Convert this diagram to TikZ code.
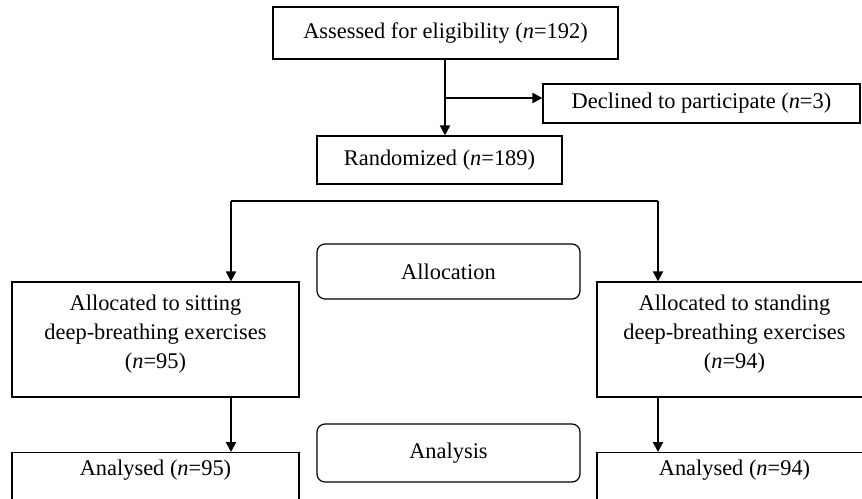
\documentclass[tikz,border=0pt]{standalone}
\usepackage{fontspec}
\setmainfont{Liberation Serif}
\usetikzlibrary{arrows.meta}

\begin{document}
\begin{tikzpicture}[
    x=0.5pt, y=-0.5pt,
    font=\fontsize{11.2pt}{14.5pt}\selectfont,
    box/.style={rectangle, draw, line width=0.6pt, text centered, align=center, inner sep=0pt},
    stage/.style={box, rounded corners=4pt, minimum width=131.5pt},
    group/.style={box, minimum height=57.5pt, text depth=7.5pt},
    result/.style={box, anchor=north, text height=11.5pt, text depth=40pt},
    arrow/.style={line width=1pt, -{Triangle[length=5pt, width=5pt]}},
    link/.style={line width=1pt}
]
\useasboundingbox (0,0) rectangle (862,498);
\clip (0,0) rectangle (862,498);

\node (assess) [box, minimum width=172.5pt, minimum height=26pt] at (445.5,33) {Assessed for eligibility (\textit{n}=192)};
\node (declined) [box, minimum width=158.5pt, minimum height=19.5pt] at (701.5,103.5) {Declined to participate (\textit{n}=3)};
\node (random) [box, minimum width=122.5pt, minimum height=24pt] at (439.5,160) {Randomized (\textit{n}=189)};

\node (alloc) [stage, minimum height=27.5pt] at (448.5,271.5) {Allocation};
\node (analysis) [stage, minimum height=29pt] at (448.5,453) {Analysis};

\node (sitting) [group, minimum width=143.5pt] at (155.5,339.5) {Allocated to sitting\\deep-breathing exercises\\(\textit{n}=95)};
\node (standing) [group, minimum width=137.5pt] at (734.5,339.5) {Allocated to standing\\deep-breathing exercises\\(\textit{n}=94)};

\node (anasit) [result, minimum width=143.5pt] at (155.5,452) {Analysed (\textit{n}=95)};
\node (anastand) [result, minimum width=137.5pt] at (734.5,452) {Analysed (\textit{n}=94)};

% split points
\coordinate (branch) at (445,98);
\coordinate (splitL) at (231,201);
\coordinate (splitR) at (658,201);

\draw [arrow] (branch |- assess.south) -- (branch |- random.north);
\draw [arrow] (branch) -- (declined.west |- branch);
\draw [link] (splitL) -- (splitR);
\draw [arrow] (splitL) -- (splitL |- sitting.north);
\draw [arrow] (splitR) -- (splitR |- standing.north);
\draw [arrow] (splitL |- sitting.south) -- (splitL |- anasit.north);
\draw [arrow] (splitR |- standing.south) -- (splitR |- anastand.north);
\end{tikzpicture}
\end{document}
